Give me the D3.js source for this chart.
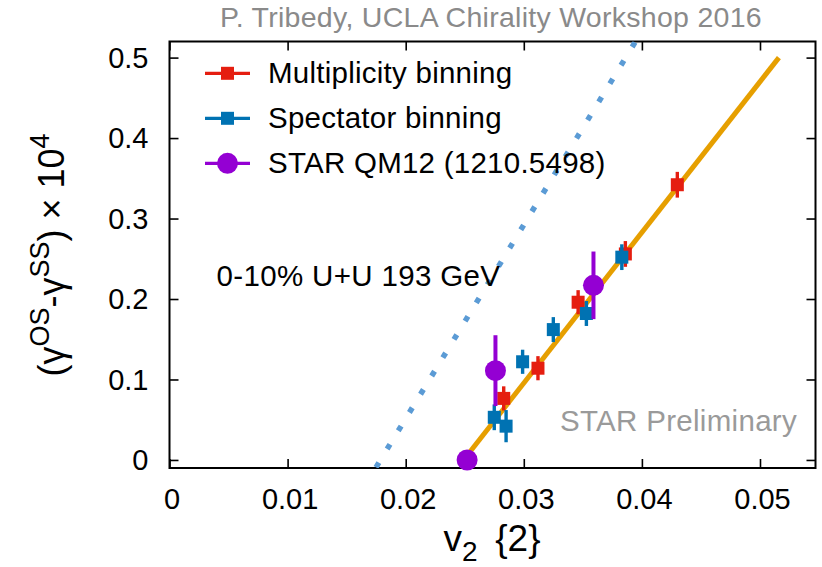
<!DOCTYPE html>
<html>
<head>
<meta charset="utf-8">
<script src="https://cdn.jsdelivr.net/npm/d3@7"></script>
<style>
  html, body { margin: 0; padding: 0; background: #fff; }
  svg { display: block; font-family: "Liberation Sans", Arial, Helvetica, sans-serif; }
</style>
</head>
<body>
<svg id="chart" width="822" height="567"></svg>
<script>
// Axis ticks
const xTicks = [0, 0.01, 0.02, 0.03, 0.04, 0.05];
const yTicks = [0, 0.1, 0.2, 0.3, 0.4, 0.5];

// Multiplicity binning
const multV2 = [0.0283, 0.0312, 0.0346, 0.0386, 0.0430];
const multGamma = [0.0765, 0.114, 0.196, 0.256, 0.342];
const multErr = [0.015, 0.015, 0.015, 0.016, 0.016];

// Spectator binning
const specV2 = [0.0275, 0.0285, 0.0299, 0.0325, 0.0353, 0.0383];
const specGamma = [0.053, 0.042, 0.122, 0.162, 0.182, 0.252];
const specErr = [0.016, 0.02, 0.015, 0.0155, 0.0155, 0.016];

// STAR QM12 (1210.5498)
const qmV2 = [0.0252, 0.0276, 0.0359];
const qmGamma = [0.0, 0.111, 0.217];
const qmErr = [0, 0.044, 0.042];

// Linear fit (solid) and reference line (dotted)
const fitV2 = [0.0249, 0.0516];
const fitGamma = [0, 0.5];
const refV2 = [0.01745, 0.03946];
const refGamma = [-0.01, 0.52];

const legendLabels = ["Multiplicity binning", "Spectator binning", "STAR QM12 (1210.5498)"];

const C = { red: "#e51e10", blue: "#0072b2", purple: "#9400d3", orange: "#e69f00", sky: "#5b9bd5" };

const svg = d3.select("#chart");
const L = 169.5, R = 815.5, T = 41.5, B = 468;

const x = d3.scaleLinear().domain([0, 0.0547]).range([L, R]);
const y = d3.scaleLinear().domain([-0.01, 0.52]).range([B, T]);

svg.append("defs").append("clipPath").attr("id", "plot")
  .append("rect").attr("x", L).attr("y", T).attr("width", R - L).attr("height", B - T);

// Title
svg.append("text").attr("x", 491).attr("y", 27).attr("text-anchor", "middle")
  .attr("font-size", 28.5).attr("letter-spacing", 0.28).attr("fill", "#8a8a8a")
  .text("P. Tribedy, UCLA Chirality Workshop 2016");

// Axes with inward ticks, mirrored on top and right
const tickLen = 9;
const xFmt = d => d === 0 ? "0" : String(+d.toFixed(2));
const yFmt = d => d === 0 ? "0" : String(+d.toFixed(1));

const gxB = svg.append("g").attr("transform", `translate(0,${B})`)
  .call(d3.axisBottom(x).tickValues(xTicks).tickSizeInner(-tickLen).tickSizeOuter(0).tickPadding(20).tickFormat(xFmt));
const gxT = svg.append("g").attr("transform", `translate(0,${T})`)
  .call(d3.axisTop(x).tickValues(xTicks).tickSizeInner(-tickLen).tickSizeOuter(0).tickFormat(""));
const gyL = svg.append("g").attr("transform", `translate(${L},0)`)
  .call(d3.axisLeft(y).tickValues(yTicks).tickSizeInner(-tickLen).tickSizeOuter(0).tickPadding(21).tickFormat(yFmt));
const gyR = svg.append("g").attr("transform", `translate(${R},0)`)
  .call(d3.axisRight(y).tickValues(yTicks).tickSizeInner(-tickLen).tickSizeOuter(0).tickFormat(""));

[gxB, gxT, gyL, gyR].forEach(g => {
  g.select(".domain").remove();
  g.selectAll(".tick line").attr("stroke", "#000").attr("stroke-width", 1.6);
  g.selectAll(".tick text").attr("fill", "#000").attr("font-size", 29)
    .attr("font-family", "Liberation Sans, Arial, Helvetica, sans-serif");
});
gxB.selectAll(".tick text").attr("dx", 2);
gyL.selectAll(".tick text").attr("dy", "0.34em");

// Frame
svg.append("rect").attr("x", L).attr("y", T).attr("width", R - L).attr("height", B - T)
  .attr("fill", "none").attr("stroke", "#000").attr("stroke-width", 2);

const plot = svg.append("g").attr("clip-path", "url(#plot)");
const line = d3.line().x(d => x(d[0])).y(d => y(d[1]));

// Dotted reference line
plot.append("path").datum(d3.zip(refV2, refGamma)).attr("d", line)
  .attr("fill", "none").attr("stroke", C.sky).attr("stroke-width", 5.5)
  .attr("stroke-dasharray", "5.5 15.9").attr("stroke-dashoffset", -0.8);

// Linear fit
plot.append("path").datum(d3.zip(fitV2, fitGamma)).attr("d", line)
  .attr("fill", "none").attr("stroke", C.orange).attr("stroke-width", 5);

// Labels inside the plot
svg.append("text").attr("x", 216.5).attr("y", 286).attr("font-size", 29.5).attr("letter-spacing", 0.35)
  .attr("fill", "#000").text("0-10% U+U 193 GeV");
svg.append("text").attr("x", 560).attr("y", 430.5).attr("font-size", 29.5).attr("letter-spacing", 0.3)
  .attr("fill", "#9a9a9a").text("STAR Preliminary");

// Series with error bars
function drawSquares(xs, ys, es, color) {
  const g = svg.append("g");
  const pts = d3.zip(xs, ys, es);
  g.selectAll("line.err").data(pts).join("line")
    .attr("x1", d => x(d[0])).attr("x2", d => x(d[0]))
    .attr("y1", d => y(d[1] - d[2])).attr("y2", d => y(d[1] + d[2]))
    .attr("stroke", color).attr("stroke-width", 3.4);
  g.selectAll("rect").data(pts).join("rect")
    .attr("x", d => x(d[0]) - 6.5).attr("y", d => y(d[1]) - 6.5)
    .attr("width", 13).attr("height", 13).attr("fill", color);
}
drawSquares(multV2, multGamma, multErr, C.red);
drawSquares(specV2, specGamma, specErr, C.blue);

const gq = svg.append("g");
const qpts = d3.zip(qmV2, qmGamma, qmErr);
gq.selectAll("line").data(qpts.filter(d => d[2] > 0)).join("line")
  .attr("x1", d => x(d[0])).attr("x2", d => x(d[0]))
  .attr("y1", d => y(d[1] - d[2])).attr("y2", d => y(d[1] + d[2]))
  .attr("stroke", C.purple).attr("stroke-width", 4);
gq.selectAll("circle").data(qpts).join("circle")
  .attr("cx", d => x(d[0])).attr("cy", d => y(d[1])).attr("r", 10.5).attr("fill", C.purple);

// Legend
const legColors = [C.red, C.blue, C.purple];
const leg = svg.append("g");
legendLabels.forEach((lab, i) => {
  const cy = 73.3 + i * 45;
  leg.append("line").attr("x1", 205).attr("x2", 250).attr("y1", cy).attr("y2", cy)
    .attr("stroke", legColors[i]).attr("stroke-width", 3.2);
  if (i < 2) {
    leg.append("rect").attr("x", 227.5 - 6.5).attr("y", cy - 6.5).attr("width", 13).attr("height", 13)
      .attr("fill", legColors[i]);
  } else {
    leg.append("circle").attr("cx", 227.5).attr("cy", cy).attr("r", 10.5).attr("fill", legColors[i]);
  }
  leg.append("text").attr("x", 268).attr("y", cy + 10).attr("font-size", 29.5).attr("letter-spacing", 0.25)
    .attr("fill", "#000").text(lab);
});

// Axis titles
const xl = svg.append("text").attr("x", 492).attr("y", 551).attr("text-anchor", "middle")
  .attr("font-size", 37).attr("fill", "#000");
xl.append("tspan").text("v");
xl.append("tspan").attr("font-size", 28).attr("dy", 10).text("2");
xl.append("tspan").attr("dy", -10).text("\u00a0\u2009{2}");

const yl = svg.append("text").attr("transform", "translate(64,255) rotate(-90)")
  .attr("text-anchor", "middle").attr("font-size", 36).attr("fill", "#000");
yl.append("tspan").text("(\u03b3");
yl.append("tspan").attr("font-size", 27).attr("dy", -15).text("OS");
yl.append("tspan").attr("dy", 15).text("-\u03b3");
yl.append("tspan").attr("font-size", 27).attr("dy", -15).text("SS");
yl.append("tspan").attr("dy", 15).text(") \u00d7 10");
yl.append("tspan").attr("font-size", 27).attr("dy", -15).text("4");
</script>
</body>
</html>
